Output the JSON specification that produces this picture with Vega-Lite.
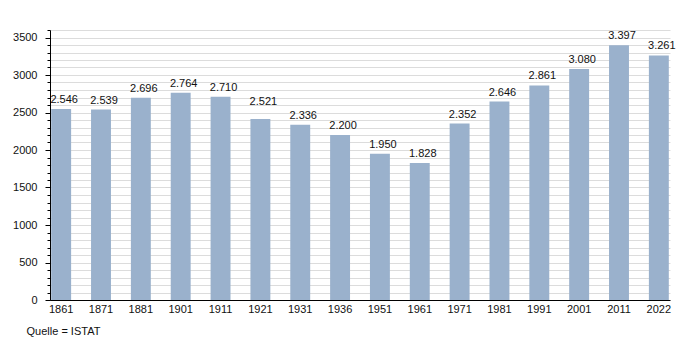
{
  "$schema": "https://vega.github.io/schema/vega-lite/v6.json",
  "autosize": "none",
  "width": 620,
  "height": 270,
  "padding": {"left": 50, "top": 30, "right": 30, "bottom": 50},
  "background": "white",
  "title": {
    "text": "Quelle = ISTAT",
    "orient": "bottom",
    "anchor": "start",
    "frame": "bounds",
    "fontSize": 11,
    "fontWeight": "normal",
    "font": "Liberation Sans",
    "color": "#111",
    "offset": 12,
    "dx": 14
  },
  "data": {
    "values": [
      {"jahr": "1861", "wert": 2546, "label": 2546},
      {"jahr": "1871", "wert": 2539, "label": 2539},
      {"jahr": "1881", "wert": 2696, "label": 2696},
      {"jahr": "1901", "wert": 2764, "label": 2764},
      {"jahr": "1911", "wert": 2710, "label": 2710},
      {"jahr": "1921", "wert": 2413, "label": 2521},
      {"jahr": "1931", "wert": 2336, "label": 2336},
      {"jahr": "1936", "wert": 2200, "label": 2200},
      {"jahr": "1951", "wert": 1950, "label": 1950},
      {"jahr": "1961", "wert": 1828, "label": 1828},
      {"jahr": "1971", "wert": 2352, "label": 2352},
      {"jahr": "1981", "wert": 2646, "label": 2646},
      {"jahr": "1991", "wert": 2861, "label": 2861},
      {"jahr": "2001", "wert": 3080, "label": 3080},
      {"jahr": "2011", "wert": 3397, "label": 3397},
      {"jahr": "2022", "wert": 3261, "label": 3261}
    ]
  },
  "encoding": {
    "x": {
      "field": "jahr",
      "type": "ordinal",
      "sort": null,
      "scale": {"paddingInner": 0.5, "paddingOuter": 0.03},
      "axis": {
        "title": null,
        "labelAngle": 0,
        "ticks": false,
        "domainColor": "#000",
        "labelColor": "#111",
        "labelFontSize": 11,
        "labelPadding": 3,
        "labelFont": "Liberation Sans"
      }
    }
  },
  "layer": [
    {
      "mark": {"type": "bar", "color": "#9ab1cc"},
      "encoding": {
        "y": {
          "field": "wert",
          "type": "quantitative",
          "scale": {"domain": [0, 3600], "nice": false},
          "axis": {
            "title": null,
            "orient": "left",
            "values": [0,100,200,300,400,500,600,700,800,900,1000,1100,1200,1300,1400,1500,1600,1700,1800,1900,2000,2100,2200,2300,2400,2500,2600,2700,2800,2900,3000,3100,3200,3300,3400,3500,3600],
            "labels": false,
            "grid": true,
            "gridColor": "#dcdcdc",
            "domainColor": "#000",
            "tickColor": "#000",
            "tickSize": 3
          }
        }
      }
    },
    {
      "mark": {"type": "text", "baseline": "bottom", "dx": 3, "dy": -4, "fontSize": 11, "font": "Liberation Sans", "color": "#111"},
      "encoding": {
        "y": {
          "field": "label",
          "type": "quantitative",
          "scale": {"domain": [0, 3600], "nice": false},
          "axis": {
            "title": null,
            "orient": "left",
            "values": [0,500,1000,1500,2000,2500,3000,3500],
            "format": "d",
            "grid": false,
            "domain": false,
            "tickColor": "#000",
            "tickSize": 5,
            "labelColor": "#111",
            "labelFontSize": 11,
            "labelFont": "Liberation Sans",
            "labelPadding": 8
          }
        },
        "text": {"field": "label", "type": "quantitative", "format": ","}
      }
    }
  ],
  "resolve": {"axis": {"y": "independent"}},
  "config": {
    "view": {"stroke": null},
    "locale": {"number": {"decimal": ",", "thousands": ".", "grouping": [3], "currency": ["", " €"]}}
  }
}
